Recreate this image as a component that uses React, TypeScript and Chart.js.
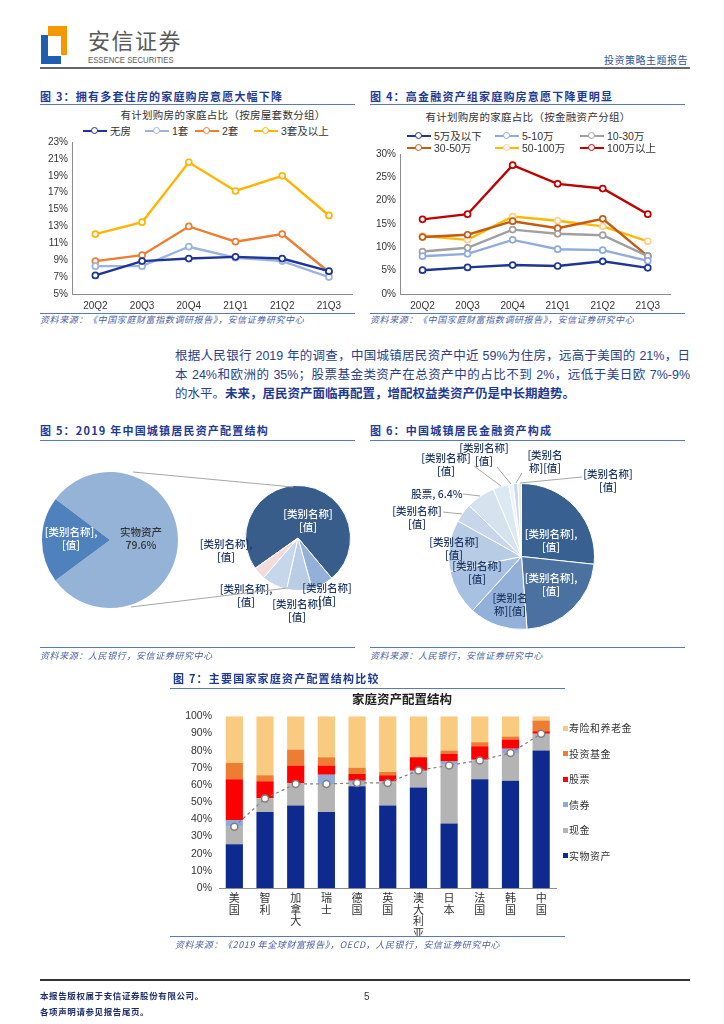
import React, { useEffect, useRef } from 'react';
import { Chart, registerables } from 'chart.js';
Chart.register(...registerables);

const FONT = "'Liberation Sans', 'Noto Sans CJK SC', sans-serif";
const CJK = "'Noto Sans CJK SC', 'Liberation Sans', sans-serif";

// ---------- Figure 3 data ----------
const quarters = ['20Q2', '20Q3', '20Q4', '21Q1', '21Q2', '21Q3'];
const fig3Names = ['无房', '1套', '2套', '3套及以上'];
const fig3NoHouse = [7.2, 8.9, 9.2, 9.4, 9.2, 7.7];
const fig3OneHouse = [8.3, 8.3, 10.6, 9.3, 8.9, 7.0];
const fig3TwoHouse = [8.9, 9.6, 13.0, 11.2, 12.1, 7.6];
const fig3ThreePlus = [12.1, 13.5, 20.6, 17.2, 19.0, 14.3];
const fig3YTicks = [5, 7, 9, 11, 13, 15, 17, 19, 21, 23];
const fig3Colors = ['#1d3596', '#9cb3e0', '#ed7d31', '#ffb400'];

// ---------- Figure 4 data ----------
const fig4Names = ['5万及以下', '5-10万', '10-30万', '30-50万', '50-100万', '100万以上'];
const fig4Under5 = [5.1, 5.7, 6.2, 6.0, 7.0, 5.6];
const fig4From5To10 = [8.1, 8.6, 11.6, 9.6, 9.4, 7.1];
const fig4From10To30 = [9.1, 9.9, 13.8, 12.9, 12.6, 8.1];
const fig4From30To50 = [12.2, 12.7, 15.6, 14.1, 16.1, 8.1];
const fig4From50To100 = [12.4, 11.6, 16.6, 15.7, 14.5, 11.3];
const fig4Over100 = [16.0, 17.1, 27.6, 23.6, 22.6, 17.1];
const fig4YTicks = [0, 5, 10, 15, 20, 25, 30];
const fig4Colors = ['#1d3596', '#8faadc', '#a0a0a0', '#c55a11', '#ffb800', '#c00000'];
const fig4PointColors = ['#1d3596', '#8faadc', '#a0a0a0', '#c55a11', '#fcd088', '#c00000'];

// ---------- Figure 5 data ----------
const fig5MainNames = ['实物资产', '[类别名称]'];
const fig5MainValues = [79.6, 20.4];
const fig5MainColors = ['#95b3d7', '#4f81bd'];
const fig5SubValues = [73.7, 6.8, 7.8, 7.9, 3.8];
const fig5SubColors = ['#385d8a', '#93b1d8', '#b9cde5', '#c6d7eb', '#f2dcdb'];

// ---------- Figure 6 data ----------
const fig6Values = [26.7, 22.1, 12.9, 10.0, 11.4, 4.2, 6.4, 3.5, 1.0, 1.0, 0.8];
const fig6Colors = ['#386090', '#4b71a1', '#93b0d8', '#a8c0e1', '#b8cce6', '#c7d6ea', '#d7e2ef', '#dbeaf2', '#eef2f9', '#c6d9f1', '#eeeddf'];

// ---------- Figure 7 data ----------
const fig7Countries = ['美国', '智利', '加拿大', '瑞士', '德国', '英国', '澳大利亚', '日本', '法国', '韩国', '中国'];
const fig7Real = [25.5, 44.2, 48.1, 44.2, 59.3, 48.1, 58.5, 37.5, 63.3, 62.4, 80.1];
const fig7Cash = [10.2, 7.9, 12.6, 16.4, 2.5, 13.3, 9.4, 34.3, 11.0, 16.2, 9.7];
const fig7Bonds = [3.9, 0.2, 0.3, 5.4, 0.7, 0.6, 0.4, 1.9, 0.4, 2.5, 0.0];
const fig7Stocks = [23.7, 9.9, 10.4, 5.4, 3.9, 3.6, 7.8, 4.5, 7.9, 5.4, 1.5];
const fig7Funds = [9.5, 3.4, 9.3, 4.7, 3.7, 2.0, 0.0, 1.9, 2.3, 1.7, 6.2];
const fig7Insurance = [27.2, 34.4, 19.3, 23.9, 29.9, 32.4, 23.9, 19.9, 15.1, 11.8, 2.5];
const fig7Line = [35.7, 52.1, 60.6, 60.6, 61.2, 61.2, 68.5, 71.4, 74.3, 78.6, 89.8];
const fig7YTicks = [0, 10, 20, 30, 40, 50, 60, 70, 80, 90, 100];
const fig7Legend = ['寿险和养老金', '投资基金', '股票', '债券', '现金', '实物资产'];
const fig7Colors = { real: '#0e2a8e', cash: '#b4b4b4', bonds: '#8eaadb', stocks: '#ff0000', funds: '#ed7d31', insurance: '#f9cb80' };

// ---------- helpers ----------
function ChartBox({ left, top, width, height, make }: any) {
  const ref = useRef<HTMLCanvasElement>(null);
  useEffect(() => {
    const chart = new Chart(ref.current as HTMLCanvasElement, make());
    return () => chart.destroy();
  }, []);
  return (
    <div style={{ position: 'absolute', left, top, width, height }}>
      <canvas ref={ref} />
    </div>
  );
}

function Txt({ x, y, children, size = 10, color = '#333', weight = 400, align = 'left', family = CJK, italic = false, ls = 0, style = {} }: any) {
  const tx = align === 'center' ? '-50%' : align === 'right' ? '-100%' : '0';
  return (
    <div
      style={{
        position: 'absolute', left: x, top: y, transform: `translate(${tx}, -50%)`,
        fontSize: size, color, fontWeight: weight, fontFamily: family,
        fontStyle: italic ? 'italic' : 'normal', letterSpacing: ls, whiteSpace: 'nowrap', lineHeight: 1.2, ...style,
      }}
    >
      {children}
    </div>
  );
}

function HLine({ x1, x2, y, color = '#5a78c0', w = 1 }: any) {
  return <div style={{ position: 'absolute', left: x1, top: y - w / 2, width: x2 - x1, height: w, background: color }} />;
}

function LegendLine({ x, y, color, pointColor, label }: any) {
  return (
    <>
      <div style={{ position: 'absolute', left: x, top: y - 1.25, width: 24, height: 2.5, background: color }} />
      <div style={{ position: 'absolute', left: x + 8, top: y - 4, width: 5, height: 5, borderRadius: '50%', border: `1.6px solid ${pointColor || color}`, background: '#fff' }} />
      <Txt x={x + 27} y={y} size={10.5} family={FONT} color="#333">{label}</Txt>
    </>
  );
}

function lineDataset(label: string, data: number[], color: string, pointColor?: string) {
  return {
    label, data, borderColor: color, backgroundColor: '#fff', borderWidth: 2.4,
    pointRadius: 3, pointBorderWidth: 1.7, pointBackgroundColor: '#fff', pointBorderColor: pointColor || color,
    tension: 0, fill: false,
  };
}

function lineOptions(ticks: number[], yWidth: number, padRight: number) {
  return {
    animation: false, responsive: true, maintainAspectRatio: false, events: [],
    layout: { padding: { top: 0, right: padRight, left: 0, bottom: 0 } },
    plugins: { legend: { display: false }, tooltip: { enabled: false } },
    scales: {
      x: {
        offset: true,
        grid: { display: false, drawTicks: false },
        border: { display: true, color: '#8c8c8c', width: 1 },
        ticks: { font: { family: FONT, size: 10 }, color: '#333', padding: 6, maxRotation: 0, autoSkip: false },
        afterFit: (s: any) => { s.height = 18; },
      },
      y: {
        min: ticks[0], max: ticks[ticks.length - 1],
        grid: { display: false, drawTicks: false },
        border: { display: true, color: '#8c8c8c', width: 1 },
        ticks: { stepSize: ticks[1] - ticks[0], callback: (v: any) => v + '%', font: { family: FONT, size: 10 }, color: '#333', padding: 4 },
        afterFit: (s: any) => { s.width = yWidth; },
      },
    },
  };
}

function pieConfig(values: number[], colors: string[], rotation: number, borderWidth: number) {
  return {
    type: 'pie',
    data: { labels: values.map((_, i) => String(i)), datasets: [{ data: values, backgroundColor: colors, borderColor: '#fff', borderWidth, hoverOffset: 0, offset: 0 }] },
    options: {
      animation: false, responsive: true, maintainAspectRatio: false, events: [], rotation,
      layout: { padding: 0 },
      plugins: { legend: { display: false }, tooltip: { enabled: false } },
    },
  };
}

const TITLE_COLOR = '#1f3a93';
const SRC_COLOR = '#4b62a3';
const NAVY = '#1f3864';

function Title({ x, y, children }: any) {
  return <Txt x={x} y={y} size={11} weight={700} color={TITLE_COLOR} ls={1.2}>{children}</Txt>;
}
function Source({ x, y, children }: any) {
  return <Txt x={x} y={y} size={9} italic color={SRC_COLOR} ls={0.6}>{children}</Txt>;
}
function Lbl({ x, y, lines, color = NAVY }: any) {
  return (
    <>
      {lines.map((t: string, i: number) => (
        <Txt key={i} x={x} y={y + i * 12.5} size={10.5} weight={500} color={color} align="center" family={CJK}>{t}</Txt>
      ))}
    </>
  );
}

export default function App() {
  const fig3 = () => ({
    type: 'line',
    data: {
      labels: quarters,
      datasets: [
        lineDataset(fig3Names[0], fig3NoHouse, fig3Colors[0]),
        lineDataset(fig3Names[1], fig3OneHouse, fig3Colors[1]),
        lineDataset(fig3Names[2], fig3TwoHouse, fig3Colors[2]),
        lineDataset(fig3Names[3], fig3ThreePlus, fig3Colors[3]),
      ],
    },
    options: lineOptions(fig3YTicks, 32, 5),
  });

  const fig4 = () => ({
    type: 'line',
    data: {
      labels: quarters,
      datasets: [
        lineDataset(fig4Names[0], fig4Under5, fig4Colors[0]),
        lineDataset(fig4Names[1], fig4From5To10, fig4Colors[1]),
        lineDataset(fig4Names[2], fig4From10To30, fig4Colors[2]),
        lineDataset(fig4Names[3], fig4From30To50, fig4Colors[3]),
        lineDataset(fig4Names[4], fig4From50To100, fig4Colors[4], fig4PointColors[4]),
        lineDataset(fig4Names[5], fig4Over100, fig4Colors[5]),
      ],
    },
    options: lineOptions(fig4YTicks, 30, 4),
  });

  const bar = (label: string, data: number[], color: string) => ({
    type: 'bar', label, data, backgroundColor: color, stack: 'assets', order: 1,
    barPercentage: 0.56, categoryPercentage: 1, borderWidth: 0,
  });

  const fig7 = () => ({
    type: 'bar',
    data: {
      labels: fig7Countries.map((c) => c.split('')),
      datasets: [
        {
          type: 'line', label: '累计', data: fig7Line, stack: 'line', order: 0,
          borderColor: '#808080', borderDash: [3, 3], borderWidth: 1.2, fill: false,
          pointRadius: 3.5, pointBackgroundColor: '#fff', pointBorderColor: '#808080', pointBorderWidth: 1.5,
        },
        bar(fig7Legend[5], fig7Real, fig7Colors.real),
        bar(fig7Legend[4], fig7Cash, fig7Colors.cash),
        bar(fig7Legend[3], fig7Bonds, fig7Colors.bonds),
        bar(fig7Legend[2], fig7Stocks, fig7Colors.stocks),
        bar(fig7Legend[1], fig7Funds, fig7Colors.funds),
        bar(fig7Legend[0], fig7Insurance, fig7Colors.insurance),
      ],
    },
    options: {
      animation: false, responsive: true, maintainAspectRatio: false, events: [],
      layout: { padding: { top: 0, right: 5, left: 0, bottom: 0 } },
      plugins: { legend: { display: false }, tooltip: { enabled: false } },
      scales: {
        x: {
          stacked: true,
          grid: { display: false, drawTicks: false },
          border: { display: true, color: '#8c8c8c', width: 1 },
          ticks: { font: { family: CJK, size: 11, lineHeight: 1.06 }, color: '#333', padding: 4, maxRotation: 0, autoSkip: false },
          afterFit: (s: any) => { s.height = 48; },
        },
        y: {
          stacked: true, min: fig7YTicks[0], max: fig7YTicks[fig7YTicks.length - 1],
          grid: { display: false, drawTicks: false },
          border: { display: false },
          ticks: { stepSize: fig7YTicks[1] - fig7YTicks[0], callback: (v: any) => v + '%', font: { family: FONT, size: 10.5 }, color: '#333', padding: 7 },
          afterFit: (s: any) => { s.width = 49; },
        },
      },
    },
  });

  const legend7Colors = [fig7Colors.insurance, fig7Colors.funds, fig7Colors.stocks, fig7Colors.bonds, fig7Colors.cash, fig7Colors.real];
  const legend7Y = [728, 753.5, 779, 804.5, 830, 855.5];

  return (
    <div style={{ position: 'absolute', left: 0, top: 0, width: 724, height: 1024, background: '#fff', overflow: 'hidden', fontFamily: CJK }}>
      {/* Header */}
      <div style={{ position: 'absolute', left: 48, top: 26, width: 19, height: 10, background: '#f39800' }} />
      <div style={{ position: 'absolute', left: 61, top: 26, width: 6, height: 29, background: '#f39800' }} />
      <div style={{ position: 'absolute', left: 41, top: 35, width: 7, height: 29, background: '#1f5fae' }} />
      <div style={{ position: 'absolute', left: 41, top: 56, width: 20, height: 8, background: '#1f5fae' }} />
      <Txt x={88} y={39} size={22} color="#5a5a5a" ls={1.5} weight={400}>安信证券</Txt>
      <Txt x={88} y={59.5} size={9} color="#5a5a5a" family={FONT} style={{ transform: 'translate(0,-50%) scaleX(0.86)', transformOrigin: 'left center' }}>ESSENCE SECURITIES</Txt>
      <Txt x={688} y={60} size={10} color="#2f5597" align="right" ls={0.5}>投资策略主题报告</Txt>
      <HLine x1={40} x2={690} y={68} color="#666" w={2} />

      {/* Figure 3 */}
      <Title x={40} y={97}>图 3：拥有多套住房的家庭购房意愿大幅下降</Title>
      <HLine x1={40} x2={355} y={104} />
      <Txt x={223} y={114.5} size={10.5} align="center" ls={0.3}>有计划购房的家庭占比（按房屋套数分组）</Txt>
      <LegendLine x={83} y={131} color={fig3Colors[0]} label={fig3Names[0]} />
      <LegendLine x={145} y={131} color={fig3Colors[1]} label={fig3Names[1]} />
      <LegendLine x={195} y={131} color={fig3Colors[2]} label={fig3Names[2]} />
      <LegendLine x={254} y={131} color={fig3Colors[3]} label={fig3Names[3]} />
      <ChartBox left={40} top={132} width={318} height={180} make={fig3} />
      <HLine x1={40} x2={355} y={313} />
      <Source x={40} y={320}>资料来源：《中国家庭财富指数调研报告》，安信证券研究中心</Source>

      {/* Figure 4 */}
      <Title x={370} y={97}>图 4：高金融资产组家庭购房意愿下降更明显</Title>
      <HLine x1={370} x2={685} y={104} />
      <Txt x={528} y={117} size={10.5} align="center" ls={0.3}>有计划购房的家庭占比（按金融资产分组）</Txt>
      <ChartBox left={370} top={144} width={306} height={168} make={fig4} />
      <LegendLine x={407} y={136} color={fig4Colors[0]} label={fig4Names[0]} />
      <LegendLine x={495} y={136} color={fig4Colors[1]} label={fig4Names[1]} />
      <LegendLine x={580} y={136} color={fig4Colors[2]} label={fig4Names[2]} />
      <LegendLine x={407} y={148} color={fig4Colors[3]} label={fig4Names[3]} />
      <LegendLine x={495} y={148} color={fig4Colors[4]} pointColor={fig4PointColors[4]} label={fig4Names[4]} />
      <LegendLine x={580} y={148} color={fig4Colors[5]} label={fig4Names[5]} />
      <HLine x1={370} x2={685} y={313} />
      <Source x={370} y={320}>资料来源：《中国家庭财富指数调研报告》，安信证券研究中心</Source>

      {/* Paragraph */}
      <div style={{ position: 'absolute', left: 175, top: 347, width: 515, fontSize: 12.5, lineHeight: '19px', color: '#2a3f87', fontFamily: FONT }}>
        <div style={{ textAlign: 'justify', textAlignLast: 'justify' as any }}>根据人民银行 2019 年的调查，中国城镇居民资产中近 59%为住房，远高于美国的 21%，日</div>
        <div style={{ textAlign: 'justify', textAlignLast: 'justify' as any }}>本 24%和欧洲的 35%；股票基金类资产在总资产中的占比不到 2%，远低于美日欧 7%-9%</div>
        <div>的水平。<span style={{ fontWeight: 700, color: '#1f3a93' }}>未来，居民资产面临再配置，增配权益类资产仍是中长期趋势。</span></div>
      </div>

      {/* Figure 5 */}
      <Title x={40} y={431}>图 5：2019 年中国城镇居民资产配置结构</Title>
      <HLine x1={40} x2={355} y={440} />
      <ChartBox left={42} top={472} width={136} height={136} make={() => pieConfig(fig5MainValues, fig5MainColors, -53.1, 0)} />
      <ChartBox left={245} top={485} width={106} height={106} make={() => pieConfig(fig5SubValues, fig5SubColors, 234.7, 1)} />
      <Lbl x={71} y={532} lines={[fig5MainNames[1] + ',', '[值]']} color="#fff" />
      <Lbl x={141} y={532} lines={[fig5MainNames[0], fig5MainValues[0].toFixed(1) + '%']} color="#333" />
      <Lbl x={308} y={514} lines={['[类别名称]', '[值]']} color="#fff" />
      <Lbl x={226} y={544} lines={['[类别名称],', '[值]']} />
      <Lbl x={246} y={589} lines={['[类别名称],', '[值]']} />
      <Lbl x={297} y={604} lines={['[类别名称]', '[值]']} />
      <Lbl x={327} y={588} lines={['[类别名称]', '[值]']} />
      <HLine x1={40} x2={355} y={647} />
      <Source x={40} y={656}>资料来源：人民银行，安信证券研究中心</Source>

      {/* Figure 6 */}
      <Title x={370} y={431}>图 6：中国城镇居民金融资产构成</Title>
      <HLine x1={370} x2={685} y={440} />
      <ChartBox left={448} top={483} width={147} height={147} make={() => pieConfig(fig6Values, fig6Colors, 0, 1)} />
      <Lbl x={551} y={534} lines={['[类别名称],', '[值]']} color="#fff" />
      <Lbl x={551} y={578} lines={['[类别名称],', '[值]']} color="#fff" />
      <Lbl x={510} y={598} lines={['[类别名', '称][值]']} />
      <Lbl x={477} y={566} lines={['[类别名称]', '[值]']} />
      <Lbl x={454} y={542} lines={['[类别名称]', '[值]']} />
      <Lbl x={417} y={511} lines={['[类别名称]', '[值]']} />
      <Txt x={437} y={494} size={10.5} weight={500} color={NAVY} align="center">股票, {fig6Values[6].toFixed(1)}%</Txt>
      <Lbl x={446} y={458} lines={['[类别名称]', '[值]']} />
      <Lbl x={484} y={448} lines={['[类别名称]', '[值]']} />
      <Lbl x={545} y={455} lines={['[类别名', '称][值]']} />
      <Lbl x={608} y={474} lines={['[类别名称]', '[值]']} />
      <HLine x1={370} x2={685} y={647} />
      <Source x={370} y={656}>资料来源：人民银行，安信证券研究中心</Source>

      <svg style={{ position: 'absolute', left: 0, top: 0, pointerEvents: 'none' }} width={724} height={1024}>
        <g stroke="#a6a6a6" strokeWidth={1} fill="none">
          <line x1={133} y1={472} x2={293} y2={487} />
          <line x1={131} y1={607} x2={288} y2={588} />
          <line x1={443} y1={512} x2={462} y2={514} />
          <line x1={463} y1={494} x2={480} y2={496} />
          <line x1={474} y1={466} x2={501} y2={486} />
          <line x1={497} y1={467} x2={511} y2={484} />
          <line x1={522} y1={473} x2={516} y2={483} />
          <line x1={582} y1={477} x2={520} y2={483} />
        </g>
      </svg>

      {/* Figure 7 */}
      <Title x={173} y={679}>图 7：主要国家家庭资产配置结构比较</Title>
      <HLine x1={170} x2={565} y={688} />
      <Txt x={402} y={698} size={12.5} weight={700} align="center" color="#222">家庭资产配置结构</Txt>
      <ChartBox left={170} top={703} width={392} height={233} make={fig7} />
      {fig7Legend.map((name, i) => (
        <React.Fragment key={name}>
          <div style={{ position: 'absolute', left: 563, top: legend7Y[i] - 2.5, width: 5, height: 5, background: legend7Colors[i] }} />
          <Txt x={569} y={legend7Y[i]} size={10} color="#333" ls={0.5}>{name}</Txt>
        </React.Fragment>
      ))}
      <HLine x1={170} x2={565} y={936} />
      <Source x={175} y={945}>资料来源：《2019 年全球财富报告》，OECD，人民银行，安信证券研究中心</Source>

      {/* Footer */}
      <HLine x1={40} x2={690} y={980} color="#333" w={1.5} />
      <Txt x={40} y={995} size={8.5} weight={700} color="#1f2f6b" ls={0.6}>本报告版权属于安信证券股份有限公司。</Txt>
      <Txt x={40} y={1011} size={8.5} weight={700} color="#1f2f6b" ls={0.6}>各项声明请参见报告尾页。</Txt>
      <Txt x={364} y={997} size={10} family={FONT} color="#333">5</Txt>
    </div>
  );
}
